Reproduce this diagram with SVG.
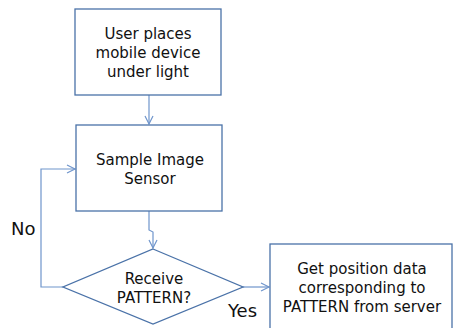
<svg xmlns="http://www.w3.org/2000/svg" width="453" height="328" viewBox="0 0 453 328">
<style>
.box{fill:#fff;stroke:#4a72a8;stroke-width:1.3}
.t{font-family:"DejaVu Sans","Noto Sans",sans-serif;font-size:15px;fill:#111;text-anchor:middle}
.lbl{font-family:"DejaVu Sans","Noto Sans",sans-serif;font-size:18px;fill:#111}
.c{fill:none;stroke:#6f95cc;stroke-width:1.2}
</style>
<defs>
<marker id="ah" markerWidth="12" markerHeight="12" refX="9" refY="5" orient="auto" markerUnits="userSpaceOnUse">
<path d="M1,1 L9,5 L1,9" fill="none" stroke="#6f95cc" stroke-width="1.2"/>
</marker>
</defs>
<rect width="453" height="328" fill="#fff"/>
<g id="connectors">
<path class="c" d="M149,95 V124" marker-end="url(#ah)"/>
<path class="c" d="M149,211 V230 L153,232 V248" marker-end="url(#ah)"/>
<path class="c" d="M63,287 H41 V169 H75" marker-end="url(#ah)"/>
<path class="c" d="M243,287 H269" marker-end="url(#ah)"/>
</g>
<g id="n1">
<rect class="box" x="75" y="9" width="146" height="86"/>
<text class="t" x="148" y="39">User places</text>
<text class="t" x="148" y="58">mobile device</text>
<text class="t" x="148" y="77">under light</text>
</g>
<g id="n2">
<rect class="box" x="76" y="125" width="146" height="86"/>
<text class="t" x="150" y="165">Sample Image</text>
<text class="t" x="150" y="184">Sensor</text>
</g>
<g id="n3">
<polygon class="box" points="153,249 243,287 153,324 63,287"/>
<text class="t" x="154" y="284">Receive</text>
<text class="t" x="154" y="303">PATTERN?</text>
</g>
<g id="n4">
<rect class="box" x="270" y="244" width="182" height="100"/>
<text class="t" x="362" y="274">Get position data</text>
<text class="t" x="362" y="293">corresponding to</text>
<text class="t" x="362" y="312">PATTERN from server</text>
</g>
<text class="lbl" x="11" y="235">No</text>
<text class="lbl" x="228" y="317">Yes</text>
</svg>
